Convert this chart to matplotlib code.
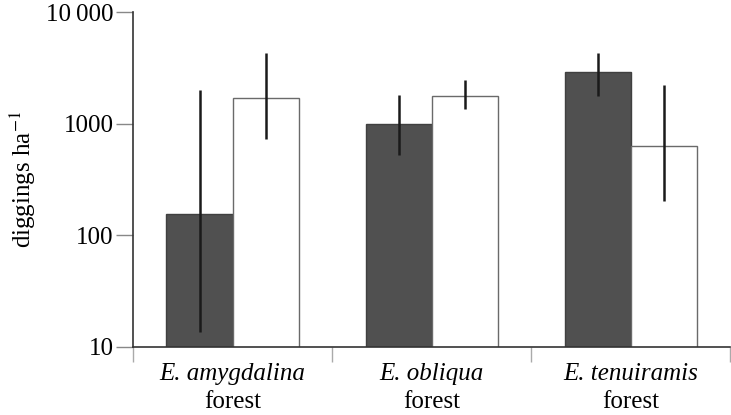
import numpy as np
from matplotlib import pyplot as plt
from matplotlib import transforms

plt.rcParams['font.family'] = 'serif'
plt.rcParams['font.serif'] = ['Liberation Serif', 'DejaVu Serif']
plt.rcParams['mathtext.fontset'] = 'stix'

species = ['E. amygdalina', 'E. obliqua', 'E. tenuiramis']
dark_vals = [155, 1000, 2900]
dark_lo = [13.6, 520, 1755]
dark_hi = [2000, 1800, 4290]
white_vals = [1700, 1755, 630]
white_lo = [728, 1352, 204]
white_hi = [4290, 2445, 2230]
yticks = [10, 100, 1000, 10000]
ylabels = ['10', '100', '1000', '10\u2009000']

fig = plt.figure(figsize=(7.31, 4.15), dpi=100)
ax = fig.add_axes([0.182, 0.164, 0.817, 0.807])

x = np.arange(len(species))
w = 0.332
ax.bar(x - w / 2, dark_vals, w, color='#505050', edgecolor='#404040', linewidth=1, zorder=2)
ax.bar(x + w / 2, white_vals, w, color='white', edgecolor='#6a6a6a', linewidth=1, zorder=2)

dv = np.array(dark_vals)
wv = np.array(white_vals)
ax.errorbar(x - w / 2, dv, yerr=[dv - np.array(dark_lo), np.array(dark_hi) - dv],
            fmt='none', ecolor='#1a1a1a', elinewidth=1.8, capsize=0, zorder=3)
ax.errorbar(x + w / 2, wv, yerr=[wv - np.array(white_lo), np.array(white_hi) - wv],
            fmt='none', ecolor='#1a1a1a', elinewidth=1.8, capsize=0, zorder=3)

ax.set_yscale('log')
ax.set_ylim(10, 10000)
ax.set_xlim(-0.5, 2.5)
ax.set_yticks(yticks)
ax.set_yticklabels(ylabels, fontsize=18)
ax.minorticks_off()
ax.tick_params(axis='y', length=12, width=1, color='#888888', pad=2)
ax.set_xticks([-0.5, 0.5, 1.5, 2.5])
ax.set_xticklabels([])
ax.tick_params(axis='x', length=11, width=1, color='#aaaaaa')

for s in ['top', 'right']:
    ax.spines[s].set_visible(False)
ax.spines['left'].set_color('#333333')
ax.spines['bottom'].set_color('#333333')
ax.spines['left'].set_linewidth(1.2)
ax.spines['bottom'].set_linewidth(1.2)

ax.set_ylabel(r'diggings ha$^{-1}$', fontsize=18, labelpad=6)

trans = transforms.blended_transform_factory(ax.transData, fig.transFigure)
for i, sp in enumerate(species):
    ax.text(i, 1 - 380 / 415, sp, style='italic', fontsize=18, ha='center', va='baseline', transform=trans)
    ax.text(i, 1 - 408 / 415, 'forest', fontsize=18, ha='center', va='baseline', transform=trans)

plt.savefig('out.png', dpi=100)
